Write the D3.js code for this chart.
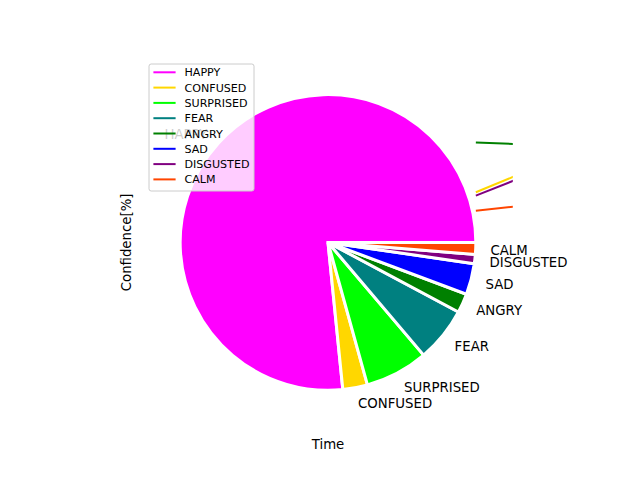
<!DOCTYPE html>
<html>
<head>
<meta charset="utf-8">
<script src="https://cdn.jsdelivr.net/npm/d3@7"></script>
<style>
  body { margin: 0; background: #fff; }
  text { font-family: "DejaVu Sans", sans-serif; }
</style>
</head>
<body>
<script>
// emotion categories and their confidence share (%)
var categories = ["HAPPY", "CONFUSED", "SURPRISED", "FEAR", "ANGRY", "SAD", "DISGUSTED", "CALM"];
var confidence = [76.6, 2.7, 6.9, 6.0, 2.1, 3.4, 1.0, 1.3];
var colors = ["#ff00ff", "#ffd700", "#00ff00", "#008080", "#008000", "#0000ff", "#800080", "#ff4500"];

// the few line traces that show up at the right edge (time vs value)
var timeSteps = [1, 2];
var confusedLine = [0.339, 0.753];
var angryLine = [0.675, 0.639];
var disgustedLine = [0.316, 0.713];
var calmLine = [0.2145, 0.322];

var lineSeries = [
  { name: "CONFUSED", values: confusedLine },
  { name: "ANGRY", values: angryLine },
  { name: "DISGUSTED", values: disgustedLine },
  { name: "CALM", values: calmLine }
];

var w = 640, h = 480;

var svg = d3.select("body")
  .append("svg")
  .attr("width", w)
  .attr("height", h);

svg.append("rect").attr("width", w).attr("height", h).attr("fill", "#fff");

// equal-aspect axes box, limits -1.25..1.25 like a pie axes
var boxTop = 57.6, boxBottom = 427.2;
var side = boxBottom - boxTop;
var boxLeft = 328 - side / 2, boxRight = 328 + side / 2;

var x = d3.scaleLinear().domain([-1.25, 1.25]).range([boxLeft, boxRight]);
var y = d3.scaleLinear().domain([-1.25, 1.25]).range([boxBottom, boxTop]);
var r = x(1) - x(0);
var cx = x(0), cy = y(0);

var color = d3.scaleOrdinal().domain(categories).range(colors);

svg.append("clipPath").attr("id", "axclip")
  .append("rect")
  .attr("x", boxLeft).attr("y", boxTop)
  .attr("width", boxRight - boxLeft).attr("height", boxBottom - boxTop);

// lines
var line = d3.line()
  .x(function (d, i) { return x(timeSteps[i]); })
  .y(function (d) { return y(d); });

svg.append("g").attr("clip-path", "url(#axclip)")
  .selectAll("path")
  .data(lineSeries)
  .enter()
  .append("path")
  .attr("d", function (d) { return line(d.values); })
  .attr("fill", "none")
  .attr("stroke", function (d) { return color(d.name); })
  .attr("stroke-width", 2);

// pie: starts at 3 o'clock, goes counterclockwise
var pie = d3.pie()
  .sort(null)
  .value(function (d) { return d; })
  .startAngle(Math.PI / 2)
  .endAngle(Math.PI / 2 - 2 * Math.PI);

var arcs = pie(confidence);
var arc = d3.arc().innerRadius(0).outerRadius(r);

var pg = svg.append("g").attr("transform", "translate(" + cx + "," + cy + ")");

pg.selectAll("path")
  .data(arcs)
  .enter()
  .append("path")
  .attr("d", arc)
  .attr("fill", function (d, i) { return colors[i]; })
  .attr("stroke", "#fff")
  .attr("stroke-width", 3)
  .attr("stroke-linejoin", "miter");

// slice labels at 1.1 r
var fs = 13.3;
pg.selectAll("text")
  .data(arcs)
  .enter()
  .append("text")
  .text(function (d, i) { return categories[i]; })
  .attr("x", function (d) {
    var a = (d.startAngle + d.endAngle) / 2;
    return 1.1 * r * Math.sin(a);
  })
  .attr("y", function (d) {
    var a = (d.startAngle + d.endAngle) / 2;
    return -1.1 * r * Math.cos(a) + 0.3645 * fs + 1.2;
  })
  .attr("text-anchor", function (d) {
    var a = (d.startAngle + d.endAngle) / 2;
    return Math.sin(a) > 0 ? "start" : "end";
  })
  .attr("font-size", fs + "px")
  .attr("fill", "#000");

// axis labels
svg.append("text")
  .text("Time")
  .attr("x", cx)
  .attr("y", 449)
  .attr("text-anchor", "middle")
  .attr("font-size", "13.3px");

svg.append("text")
  .text("Confidence[%]")
  .attr("transform", "translate(131," + cy + ") rotate(-90)")
  .attr("text-anchor", "middle")
  .attr("font-size", "13.3px");

// legend (upper left)
var lfs = 11.1;
var lx = 149, ly = 64, lw = 105, lh = 127;
var legend = svg.append("g");

legend.append("rect")
  .attr("x", lx).attr("y", ly)
  .attr("width", lw).attr("height", lh)
  .attr("rx", 2.2)
  .attr("fill", "#fff")
  .attr("fill-opacity", 0.8)
  .attr("stroke", "#cccccc")
  .attr("stroke-width", 1);

var rows = legend.selectAll("g.row")
  .data(categories)
  .enter()
  .append("g")
  .attr("class", "row")
  .attr("transform", function (d, i) { return "translate(0," + (72.3 + i * 15.3) + ")"; });

rows.append("line")
  .attr("x1", 153.4).attr("x2", 175.6)
  .attr("y1", 0).attr("y2", 0)
  .attr("stroke", function (d) { return color(d); })
  .attr("stroke-width", 2);

rows.append("text")
  .text(function (d) { return d; })
  .attr("x", 184.5)
  .attr("y", 0.3645 * lfs)
  .attr("font-size", lfs + "px")
  .attr("fill", "#000");
</script>
</body>
</html>
